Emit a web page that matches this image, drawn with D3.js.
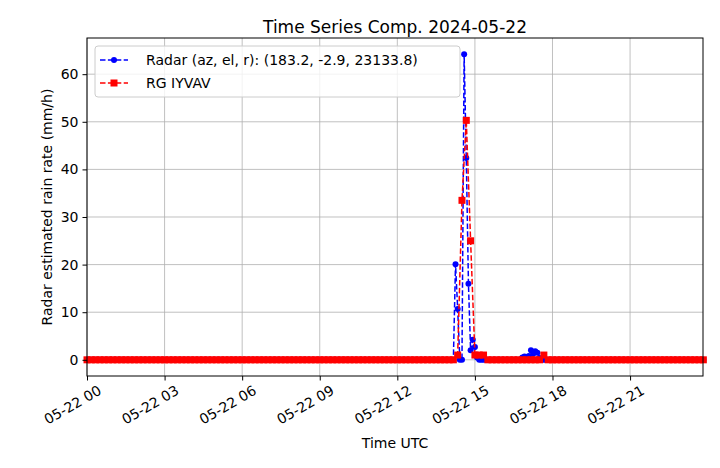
<!DOCTYPE html>
<html><head><meta charset="utf-8">
<script src="https://cdn.jsdelivr.net/npm/d3@7"></script>
<style>body{margin:0;background:#fff}text{font-family:"DejaVu Sans",sans-serif}</style>
</head><body><svg id="c" width="720" height="468"></svg>
<script>
// Radar: sample every 5 min; listed events (hour, mm/h), zero otherwise
const radarStep = 5 / 60;
const radarEvents = [[14.25,20.1],[14.33,10.7],[14.5,0],[14.58,64.2],[14.67,42.4],[14.75,16],
  [14.83,2],[14.92,4.2],[15.0,2.7],[15.08,0.5],[16.83,0.5],[16.92,0.7],[17.0,0.6],[17.08,0.8],
  [17.17,2.0],[17.25,1.2],[17.33,1.8],[17.42,1.5],[17.5,0.4]];
// Rain gauge: every 10 min
const gaugeStep = 10 / 60;
const gaugeEvents = [[14.33,1],[14.5,33.5],[14.67,50.3],[14.83,25],[15.0,1],[15.17,1],[15.33,1],[17.67,1]];
const xTicks = [0,3,6,9,12,15,18,21];
const yTicks = [0,10,20,30,40,50,60];

function series(step, events) {
  const m = new Map(events.map(e => [Math.round(e[0] / step), e[1]]));
  const out = [];
  for (let i = 0; i * step <= 23.84; i++) out.push([i * step, m.has(i) ? m.get(i) : 0]);
  return out;
}
const radar = series(radarStep, radarEvents);
const gauge = series(gaugeStep, gaugeEvents);

const svg = d3.select('#c');
const L = 87, R = 703, T = 38, B = 376;
const x = d3.scaleLinear().domain([0, 23.82]).range([L, R]);
const y = d3.scaleLinear().domain([-3.4, 67.6]).range([B, T]);

const grid = svg.append('g').attr('stroke', '#b0b0b0').attr('stroke-width', 0.8);
xTicks.forEach(t => grid.append('line').attr('x1', x(t)).attr('x2', x(t)).attr('y1', T).attr('y2', B));
yTicks.forEach(t => grid.append('line').attr('x1', L).attr('x2', R).attr('y1', y(t)).attr('y2', y(t)));

const line = d3.line().x(d => x(d[0])).y(d => y(d[1]));
svg.append('path').datum(radar).attr('d', line).attr('fill', 'none')
  .attr('stroke', 'blue').attr('stroke-width', 1.5).attr('stroke-dasharray', '5.5,2.4');
svg.append('g').selectAll('circle').data(radar).join('circle')
  .attr('cx', d => x(d[0])).attr('cy', d => y(d[1])).attr('r', 3).attr('fill', 'blue');
svg.append('path').datum(gauge).attr('d', line).attr('fill', 'none')
  .attr('stroke', 'red').attr('stroke-width', 1.5).attr('stroke-dasharray', '5.5,2.4');
svg.append('g').selectAll('rect').data(gauge).join('rect')
  .attr('x', d => x(d[0]) - 3.5).attr('y', d => y(d[1]) - 3.5).attr('width', 7).attr('height', 7).attr('fill', 'red');

svg.append('rect').attr('x', L).attr('y', T).attr('width', R - L).attr('height', B - T)
  .attr('fill', 'none').attr('stroke', '#000').attr('stroke-width', 1);

const fmt = h => '05-22 ' + String(h).padStart(2, '0');
const xa = svg.append('g').attr('transform', `translate(0,${B})`)
  .call(d3.axisBottom(x).tickValues(xTicks).tickFormat(fmt).tickSize(4.5).tickPadding(4));
xa.select('.domain').remove();
xa.selectAll('text').attr('font-size', 14).attr('text-anchor', 'end')
  .attr('transform', 'rotate(-30)').attr('dx', '0.3em').attr('dy', '1.0em');
const ya = svg.append('g').attr('transform', `translate(${L},0)`)
  .call(d3.axisLeft(y).tickValues(yTicks).tickSize(4.5).tickPadding(4));
ya.select('.domain').remove();
ya.selectAll('text').attr('font-size', 14);

svg.append('text').attr('x', 395).attr('y', 33).attr('text-anchor', 'middle').attr('font-size', 17)
  .text('Time Series Comp. 2024-05-22');
svg.append('text').attr('x', 395).attr('y', 448).attr('text-anchor', 'middle').attr('font-size', 14)
  .text('Time UTC');
svg.append('text').attr('transform', 'translate(52,207) rotate(-90)').attr('text-anchor', 'middle')
  .attr('font-size', 14).text('Radar estimated rain rate (mm/h)');

const lg = svg.append('g');
lg.append('rect').attr('x', 95).attr('y', 46).attr('width', 365).attr('height', 51).attr('rx', 3)
  .attr('fill', 'rgba(255,255,255,0.8)').attr('stroke', '#ccc');
[['Radar (az, el, r): (183.2, -2.9, 23133.8)', 'blue', 'c'], ['RG IYVAV', 'red', 's']].forEach((e, i) => {
  const cy = 60 + i * 23;
  lg.append('line').attr('x1', 100).attr('x2', 128).attr('y1', cy).attr('y2', cy)
    .attr('stroke', e[1]).attr('stroke-width', 1.5).attr('stroke-dasharray', '5.5,2.4');
  if (e[2] === 'c') lg.append('circle').attr('cx', 114).attr('cy', cy).attr('r', 3).attr('fill', e[1]);
  else lg.append('rect').attr('x', 110.5).attr('y', cy - 3.5).attr('width', 7).attr('height', 7).attr('fill', e[1]);
  lg.append('text').attr('x', 146).attr('y', cy + 5).attr('font-size', 14).text(e[0]);
});
</script></body></html>
